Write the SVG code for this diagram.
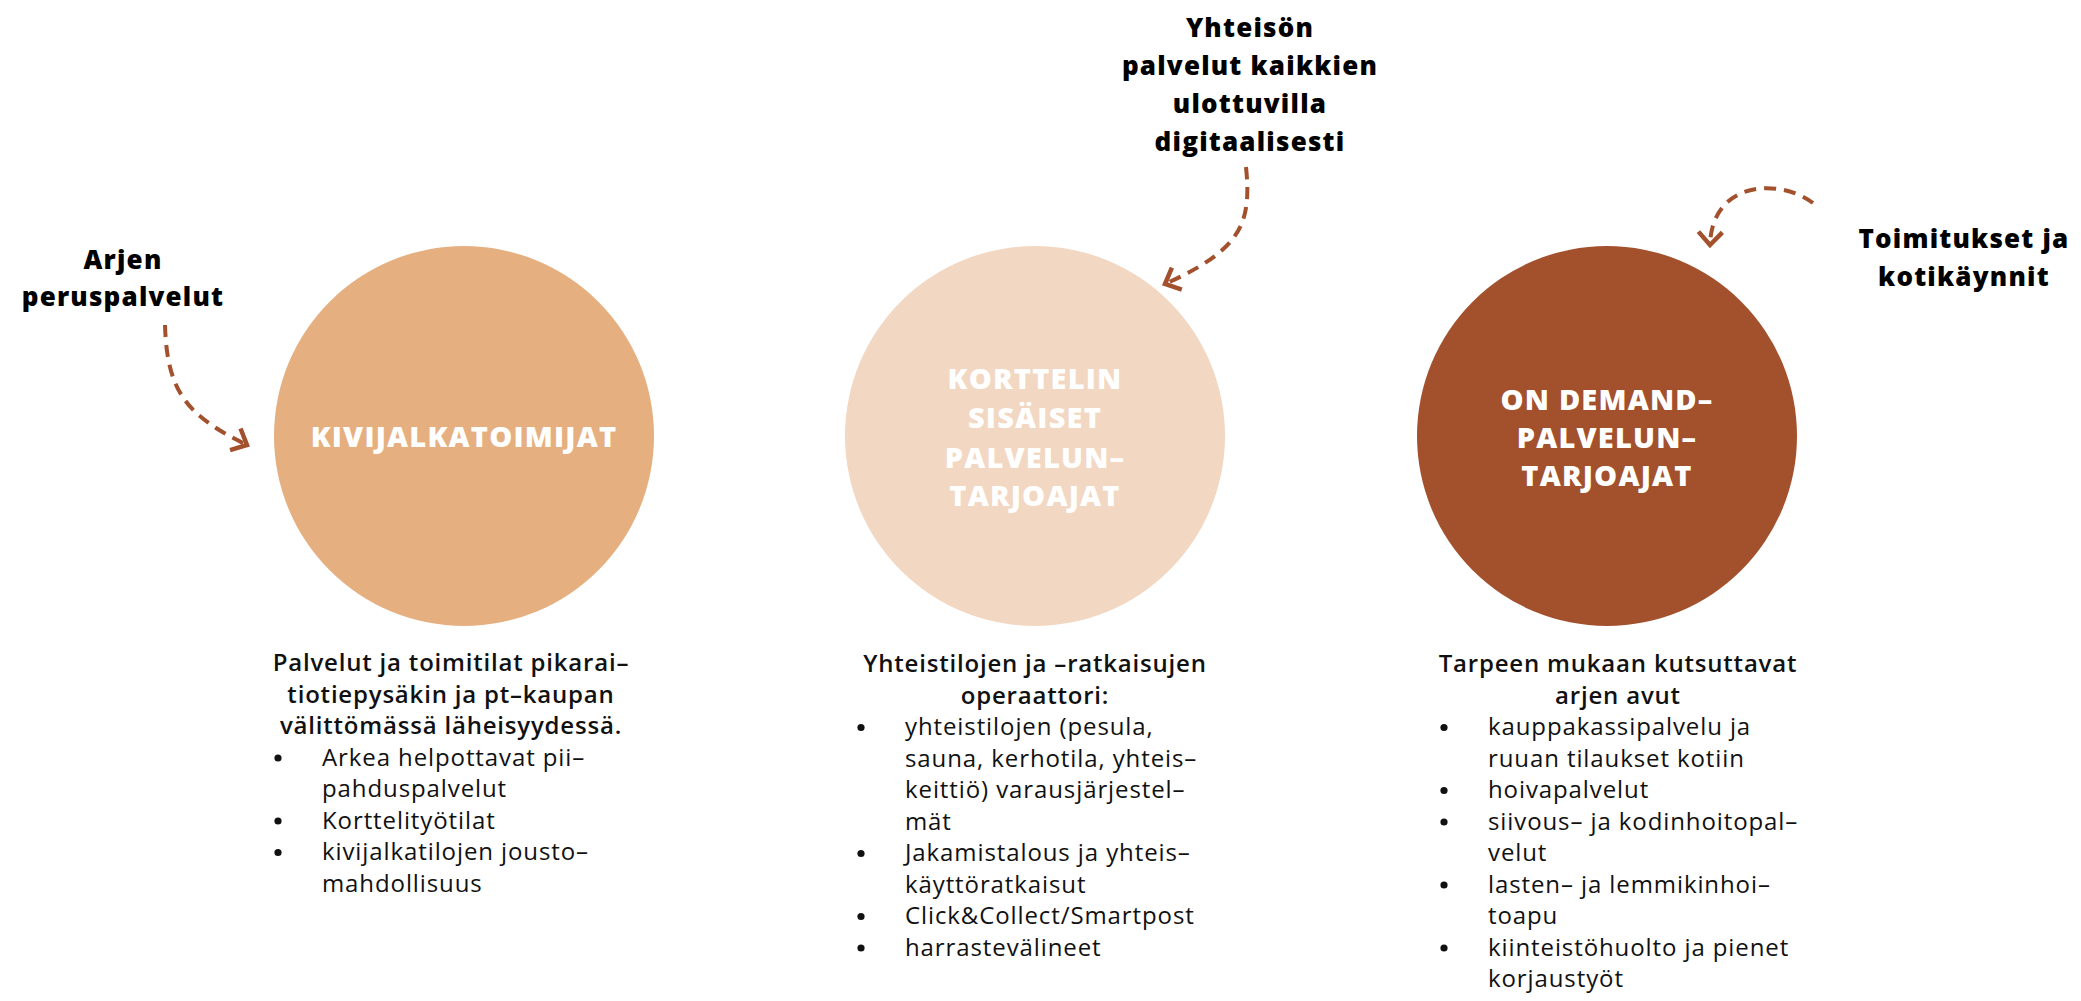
<svg xmlns="http://www.w3.org/2000/svg" width="2081" height="1001" viewBox="0 0 2081 1001">
<style>
.lbl{font-family:"Open Sans","Liberation Sans",sans-serif;font-weight:800;font-size:26px;fill:#000;text-anchor:middle;letter-spacing:1.2px}
.ctitle{font-family:"Open Sans","Liberation Sans",sans-serif;font-weight:800;font-size:29px;fill:#fff;text-anchor:middle;letter-spacing:1.2px}
.head{font-family:"Open Sans","Liberation Sans",sans-serif;font-weight:600;font-size:24px;fill:#111;text-anchor:middle;letter-spacing:0.8px}
.body{font-family:"Open Sans","Liberation Sans",sans-serif;font-weight:400;font-size:24px;fill:#111;letter-spacing:0.9px}
.bul{fill:#111}
.conn{fill:none;stroke:#A3502D;stroke-width:4;stroke-dasharray:12 8}
</style>
<defs>
<marker id="chev" markerUnits="userSpaceOnUse" viewBox="-20 -20 40 40" markerWidth="40" markerHeight="40" refX="0" refY="0" orient="auto">
<path d="M-13,-12 L0,0 L-13,12" fill="none" stroke="#A3502D" stroke-width="4.5"/>
</marker>
</defs>
<rect width="2081" height="1001" fill="#fff"/>

<g id="connectors">
<path class="conn" d="M165,325 C167,390 185,415 247,445" marker-end="url(#chev)"/>
<path class="conn" d="M1246,167 C1252,225 1240,250 1165,284" marker-end="url(#chev)"/>
<path class="conn" d="M1813,203 C1780,178 1712,180 1710,245" marker-end="url(#chev)"/>
</g>

<g id="label-arjen">
<text class="lbl" x="123" y="269">Arjen</text>
<text class="lbl" x="123" y="306">peruspalvelut</text>
</g>
<g id="label-yhteison">
<text class="lbl" x="1250" y="37">Yhteisön</text>
<text class="lbl" x="1250" y="75">palvelut kaikkien</text>
<text class="lbl" x="1250" y="113">ulottuvilla</text>
<text class="lbl" x="1250" y="151">digitaalisesti</text>
</g>
<g id="label-toimitukset">
<text class="lbl" x="1964" y="248">Toimitukset ja</text>
<text class="lbl" x="1964" y="286">kotikäynnit</text>
</g>

<g id="node-kivijalka">
<circle cx="464" cy="436" r="190" fill="#E6AF80"/>
<text class="ctitle" x="464" y="447">KIVIJALKATOIMIJAT</text>
</g>
<g id="node-kortteli">
<circle cx="1035" cy="436" r="190" fill="#F2D7C2"/>
<text class="ctitle" x="1035" y="389">KORTTELIN</text>
<text class="ctitle" x="1035" y="428">SISÄISET</text>
<text class="ctitle" x="1035" y="468">PALVELUN–</text>
<text class="ctitle" x="1035" y="506">TARJOAJAT</text>
</g>
<g id="node-ondemand">
<circle cx="1607" cy="436" r="190" fill="#A3502D"/>
<text class="ctitle" x="1607" y="410">ON DEMAND–</text>
<text class="ctitle" x="1607" y="448">PALVELUN–</text>
<text class="ctitle" x="1607" y="486">TARJOAJAT</text>
</g>

<g id="desc-kivijalka">
<text class="head" x="451" y="671">Palvelut ja toimitilat pikarai–</text>
<text class="head" x="451" y="702.5">tiotiepysäkin ja pt–kaupan</text>
<text class="head" x="451" y="734">välittömässä läheisyydessä.</text>
<circle class="bul" cx="278" cy="758" r="3.6"/><text class="body" x="322" y="765.5">Arkea helpottavat pii–</text>
<text class="body" x="322" y="797">pahduspalvelut</text>
<circle class="bul" cx="278" cy="821" r="3.6"/><text class="body" x="322" y="828.5">Korttelityötilat</text>
<circle class="bul" cx="278" cy="852.5" r="3.6"/><text class="body" x="322" y="860">kivijalkatilojen jousto–</text>
<text class="body" x="322" y="891.5">mahdollisuus</text>
</g>

<g id="desc-kortteli">
<text class="head" x="1035" y="672">Yhteistilojen ja –ratkaisujen</text>
<text class="head" x="1035" y="703.5">operaattori:</text>
<circle class="bul" cx="861" cy="727.5" r="3.6"/><text class="body" x="905" y="735">yhteistilojen (pesula,</text>
<text class="body" x="905" y="766.5">sauna, kerhotila, yhteis–</text>
<text class="body" x="905" y="798">keittiö) varausjärjestel–</text>
<text class="body" x="905" y="829.5">mät</text>
<circle class="bul" cx="861" cy="853.5" r="3.6"/><text class="body" x="905" y="861">Jakamistalous ja yhteis–</text>
<text class="body" x="905" y="892.5">käyttöratkaisut</text>
<circle class="bul" cx="861" cy="916.5" r="3.6"/><text class="body" x="905" y="924">Click&amp;Collect/Smartpost</text>
<circle class="bul" cx="861" cy="948" r="3.6"/><text class="body" x="905" y="955.5">harrastevälineet</text>
</g>

<g id="desc-ondemand">
<text class="head" x="1618" y="672">Tarpeen mukaan kutsuttavat</text>
<text class="head" x="1618" y="703.5">arjen avut</text>
<circle class="bul" cx="1444" cy="727.5" r="3.6"/><text class="body" x="1488" y="735">kauppakassipalvelu ja</text>
<text class="body" x="1488" y="766.5">ruuan tilaukset kotiin</text>
<circle class="bul" cx="1444" cy="790.5" r="3.6"/><text class="body" x="1488" y="798">hoivapalvelut</text>
<circle class="bul" cx="1444" cy="822" r="3.6"/><text class="body" x="1488" y="829.5">siivous– ja kodinhoitopal–</text>
<text class="body" x="1488" y="861">velut</text>
<circle class="bul" cx="1444" cy="885" r="3.6"/><text class="body" x="1488" y="892.5">lasten– ja lemmikinhoi–</text>
<text class="body" x="1488" y="924">toapu</text>
<circle class="bul" cx="1444" cy="948" r="3.6"/><text class="body" x="1488" y="955.5">kiinteistöhuolto ja pienet</text>
<text class="body" x="1488" y="987">korjaustyöt</text>
</g>
</svg>
